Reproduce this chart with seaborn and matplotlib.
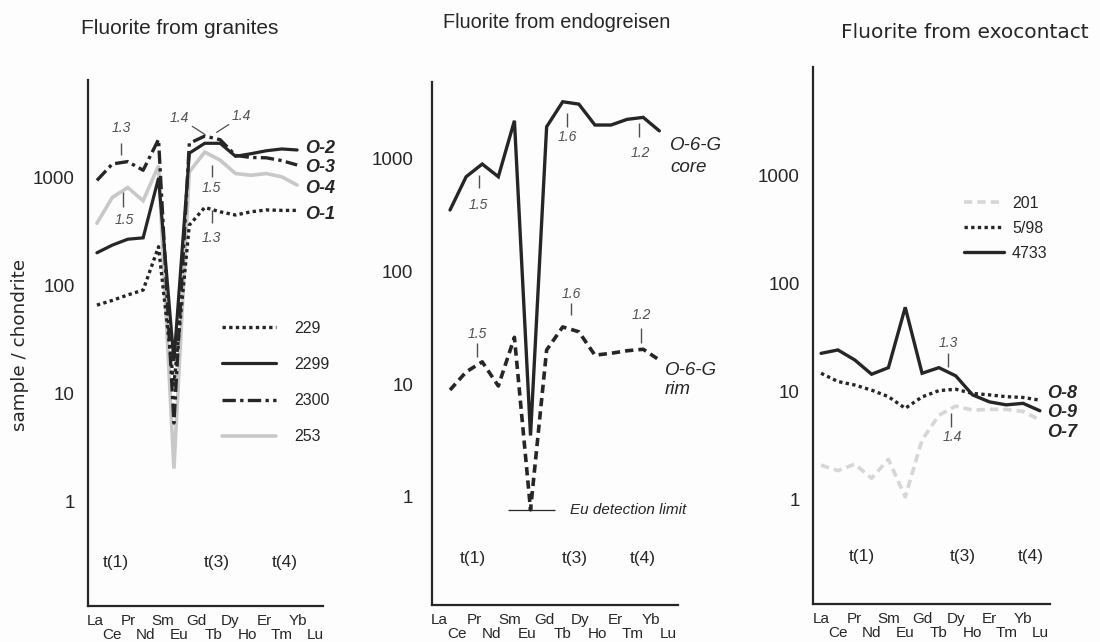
import numpy as np
import pandas as pd
import matplotlib
matplotlib.use("Agg")
import matplotlib.pyplot as plt
from matplotlib.ticker import NullLocator
import seaborn as sns

# ---------------------------------------------------------------- data
elements = ["La", "Ce", "Pr", "Nd", "Sm", "Eu", "Gd",
            "Tb", "Dy", "Ho", "Er", "Tm", "Yb", "Lu"]

# Fluorite from granites (chondrite-normalised)
granite_229 = [66, 73, 82, 91, 230, 12, 365, 533, 485, 453, 485, 505, 500, 500]
granite_2299 = [202, 238, 270, 278, 1000, 20, 1700, 2100, 2100, 1590, 1680, 1790, 1860, 1820]
granite_2300 = [950, 1350, 1420, 1180, 2280, 5.3, 2100, 2450, 2270, 1620, 1550, 1540, 1450, 1320]
granite_253 = [380, 660, 815, 615, 1300, 2.0, 1140, 1740, 1465, 1100, 1060, 1100, 1025, 860]

# Fluorite from endogreisen, sample O-6-G
eu_detection_limit = 0.77
greisen_core = [347, 683, 885, 683, 2140, 3.5, 1890, 3150, 3000, 1960, 1960, 2200, 2290, 1740]
greisen_rim = [8.85, 12.8, 15.7, 9.6, 25.9, eu_detection_limit, 20, 32, 29, 18, 18.7, 19.7, 20.3, 16.3]

# Fluorite from exocontact
exo_201 = [2.1, 1.87, 2.15, 1.59, 2.38, 1.07, 3.6, 6.1, 7.4, 6.8, 6.9, 6.9, 6.6, 5.5]
exo_598 = [14.9, 12.5, 11.6, 10.4, 9.05, 7.06, 9.0, 10.3, 10.6, 9.7, 9.4, 9.05, 8.9, 8.4]
exo_4733 = [22.8, 24.5, 19.8, 14.6, 16.8, 60.8, 14.9, 16.8, 14.1, 9.4, 8.1, 7.6, 7.85, 6.7]

y_ticks = [1, 10, 100, 1000]
y_tick_labels = ["1", "10", "100", "1000"]

# ---------------------------------------------------------------- style
sns.set_theme(style="white")
plt.rcParams["font.family"] = ["Liberation Sans", "DejaVu Sans"]

INK = "#262626"
GREY = "#c8c8c8"
LIGHT = "#d6d6d6"
NOTE = "#505050"

W, H = 1100, 642
fig = plt.figure(figsize=(W / 100, H / 100), dpi=100, facecolor="#fdfdfd")


def rect(x0, x1, ytop, ybot):
    return [x0 / W, 1 - ybot / H, (x1 - x0) / W, (ybot - ytop) / H]


pos = np.arange(len(elements))


def draw(ax, values, label, color, lw, ls):
    df = pd.DataFrame({"pos": pos, "value": values})
    sns.lineplot(data=df, x="pos", y="value", ax=ax, color=color, lw=lw,
                 linestyle=ls, label=label, legend=False,
                 solid_joinstyle="miter", dash_capstyle="butt")


def setup(ax, xlim, ylim, tick_pos, ypad, ylen):
    ax.set_facecolor("none")
    ax.set_xlim(*xlim)
    ax.set_ylim(*ylim)
    for s in ("top", "right"):
        ax.spines[s].set_visible(False)
    for s in ("left", "bottom"):
        ax.spines[s].set_color(INK)
        ax.spines[s].set_linewidth(1.6)
    ax.set_yticks(y_ticks)
    ax.set_yticklabels(y_tick_labels)
    ax.yaxis.set_minor_locator(NullLocator())
    ax.tick_params(axis="y", which="major", direction="in", length=ylen,
                   width=1.8, pad=ypad, labelsize=13.5, colors=INK)
    # element names alternate between two rows
    ax.set_xticks(tick_pos[0::2])
    ax.set_xticklabels(elements[0::2])
    ax.set_xticks(tick_pos[1::2], minor=True)
    ax.set_xticklabels(elements[1::2], minor=True)
    ax.tick_params(axis="x", which="both", direction="in", length=5,
                   width=1.2, labelsize=11, colors=INK)
    ax.tick_params(axis="x", which="major", pad=5.5)
    ax.tick_params(axis="x", which="minor", pad=15.5)
    ax.set_xlabel("")
    ax.set_ylabel("")


def note(ax, x, y_near, y_far, text, y_text, x_text=None):
    ax.vlines(x, y_near, y_far, color=NOTE, lw=1.0)
    ax.text(x if x_text is None else x_text, y_text, text, ha="center",
            va="center", fontsize=10, style="italic", color=NOTE)


def tetrads(ax, xs, y):
    for x, t in zip(xs, ["t(1)", "t(3)", "t(4)"]):
        ax.text(x, y, t, ha="center", va="center", fontsize=12.5, color=INK)


dotted = (0, (1.0, 1.0))
dashdot = (0, (4.0, 1.3, 1.0, 1.3))
dashed = (0, (2.3, 1.4))

# ---------------------------------------------------------------- granites
ax1 = fig.add_axes(rect(88, 323, 80, 606))
ax1.set_yscale("log")
draw(ax1, granite_253, "253", GREY, 2.6, "-")
draw(ax1, granite_229, "229", INK, 2.4, dotted)
draw(ax1, granite_2299, "2299", INK, 2.3, "-")
draw(ax1, granite_2300, "2300", INK, 2.4, dashdot)
setup(ax1, (-0.58, 14.68), (10 ** -0.975, 10 ** 3.91),
      np.linspace(-0.13, 14.16, len(elements)), 9.5, 6)

note(ax1, 1.56, 1630, 2110, "1.3", 2905)
note(ax1, 1.72, 740, 540, "1.5", 406, 1.78)
note(ax1, 7.45, 1320, 1030, "1.5", 815)
note(ax1, 7.45, 500, 385, "1.3", 280)
ax1.annotate("1.4", xy=(6.99, 2550), xytext=(5.35, 3600),
             ha="center", va="center", fontsize=10, style="italic", color=NOTE,
             arrowprops=dict(arrowstyle="-", color=NOTE, lw=0.9,
                             shrinkA=0, shrinkB=0))
ax1.annotate("1.4", xy=(7.77, 2650), xytext=(9.4, 3750),
             ha="center", va="center", fontsize=10, style="italic", color=NOTE,
             arrowprops=dict(arrowstyle="-", color=NOTE, lw=0.9,
                             shrinkA=0, shrinkB=0))
for txt, y in [("O-2", 1860), ("O-3", 1250), ("O-4", 800), ("O-1", 460)]:
    ax1.text(13.5, y, txt, ha="left", va="center", fontsize=13,
             fontweight="bold", style="italic", color=INK)
tetrads(ax1, [1.23, 7.79, 12.2], 0.271)
h1 = {l.get_label(): l for l in ax1.lines if not l.get_label().startswith("_")}
ax1.legend([h1[k] for k in ["229", "2299", "2300", "253"]],
           ["229", "2299", "2300", "253"],
           loc="upper left", bbox_to_anchor=(222 / W, 1 - 321 / H),
           bbox_transform=fig.transFigure, frameon=False, fontsize=11.5,
           handlelength=3.4, handletextpad=1.1, labelspacing=1.32,
           borderpad=0, borderaxespad=0, labelcolor=INK)

# ---------------------------------------------------------------- endogreisen
ax2 = fig.add_axes(rect(432, 678, 82, 605))
ax2.set_yscale("log")
draw(ax2, greisen_core, "core", INK, 2.4, "-")
draw(ax2, greisen_rim, "rim", INK, 2.6, dashed)
setup(ax2, (-1.12, 14.16), (10 ** -0.956, 10 ** 3.673),
      np.linspace(-0.68, 13.54, len(elements)), 13.5, 5)

note(ax2, 1.80, 543, 707, "1.5", 384, 1.74)
note(ax2, 7.27, 1880, 2500, "1.6", 1535)
note(ax2, 11.74, 1535, 2040, "1.2", 1107, 11.8)
note(ax2, 1.68, 17.3, 23, "1.5", 27.5)
note(ax2, 7.5, 40.8, 52, "1.6", 62, 7.56)
note(ax2, 11.86, 23, 31.3, "1.2", 41)
ax2.text(13.66, 1303, "O-6-G", ha="left", va="center", fontsize=13.5,
         style="italic", color=INK)
ax2.text(13.66, 832, "core", ha="left", va="center", fontsize=13.5,
         style="italic", color=INK)
ax2.text(13.35, 13.3, "O-6-G", ha="left", va="center", fontsize=13.5,
         style="italic", color=INK)
ax2.text(13.35, 8.85, "rim", ha="left", va="center", fontsize=13.5,
         style="italic", color=INK)
ax2.hlines(eu_detection_limit, 3.6, 6.52, color=INK, lw=0.9)
ax2.text(7.45, eu_detection_limit, "Eu detection limit", ha="left",
         va="center", fontsize=11, style="italic", color=INK)
tetrads(ax2, [1.43, 7.76, 11.99], 0.283)

# ---------------------------------------------------------------- exocontact
ax3 = fig.add_axes(rect(813, 1050, 67, 604))
ax3.set_yscale("log")
draw(ax3, exo_201, "201", LIGHT, 2.6, dashed)
draw(ax3, exo_598, "5/98", INK, 2.4, dotted)
draw(ax3, exo_4733, "4733", INK, 2.4, "-")
setup(ax3, (-0.48, 13.6), (10 ** -0.963, 10 ** 4.009),
      np.arange(len(elements)), 9.5, 6)

note(ax3, 7.56, 17, 23, "1.3", 28.4)
note(ax3, 7.74, 6.39, 4.74, "1.4", 3.83, 7.8)
for txt, y in [("O-8", 9.6), ("O-9", 6.4), ("O-7", 4.26)]:
    ax3.text(13.45, y, txt, ha="left", va="center", fontsize=13,
             fontweight="bold", style="italic", color=INK)
tetrads(ax3, [2.44, 8.39, 12.44], 0.297)
h3 = {l.get_label(): l for l in ax3.lines if not l.get_label().startswith("_")}
ax3.legend([h3[k] for k in ["201", "5/98", "4733"]], ["201", "5/98", "4733"],
           loc="upper left", bbox_to_anchor=(964 / W, 1 - 196 / H),
           bbox_transform=fig.transFigure, frameon=False, fontsize=11.5,
           handlelength=2.5, handletextpad=0.5, labelspacing=0.62,
           borderpad=0, borderaxespad=0, labelcolor=INK)

# ---------------------------------------------------------------- titles
fig.text(180 / W, 1 - 28 / H, "Fluorite from granites", ha="center",
         va="center", fontsize=15, color=INK)
fig.text(557 / W, 1 - 22 / H, "Fluorite from endogreisen", ha="center",
         va="center", fontsize=14.3, color=INK)
fig.text(965 / W, 1 - 33 / H, "Fluorite from exocontact", ha="center",
         va="center", fontsize=14.5, color=INK, family="DejaVu Sans")
fig.text(20 / W, 1 - 345 / H, "sample / chondrite", rotation=90,
         ha="center", va="center", fontsize=13.2, color=INK,
         family="DejaVu Sans")

fig.savefig("out.png", dpi=100, facecolor=fig.get_facecolor())
